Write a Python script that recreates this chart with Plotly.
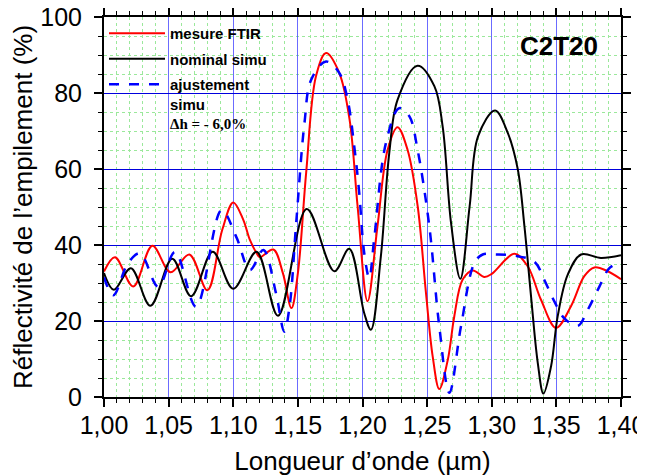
import plotly.graph_objects as go

# ---- data ----
x_ftir = [1.000, 1.0085, 1.0226, 1.0374, 1.0515, 1.066, 1.080, 1.0915, 1.100, 1.1077, 1.1128,
          1.118, 1.1205, 1.131, 1.1384, 1.145, 1.150, 1.1564, 1.164, 1.1718, 1.182, 1.190,
          1.1962, 1.2039, 1.2116, 1.2194, 1.2271, 1.2349, 1.2427, 1.2491, 1.2543, 1.2594,
          1.266, 1.271, 1.2775, 1.2853, 1.2943, 1.300, 1.3175, 1.3278, 1.3381, 1.3497,
          1.3613, 1.3716, 1.3794, 1.3897, 1.400]
y_ftir = [33.0, 36.8, 29.1, 39.8, 32.8, 37.5, 28.1, 44.0, 51.2, 46.7, 41.4,
          37.9, 36.8, 38.8, 32.6, 23.4, 32.6, 59.0, 84.4, 90.5, 85.3, 73.0,
          50.2, 25.2, 45.0, 65.0, 71.0, 65.0, 50.2, 27.4, 10.7, 2.1,
          9.8, 21.2, 30.9, 33.3, 31.6, 32.4, 37.7, 34.4, 25.6, 18.2,
          23.9, 31.8, 34.1, 33.1, 31.0]

x_nominal = [1.000, 1.0077, 1.0208, 1.0359, 1.0528, 1.0674, 1.0841, 1.100, 1.118, 1.1346,
             1.1569, 1.1782, 1.1897, 1.2013, 1.2065, 1.2142, 1.2207, 1.2271, 1.2426, 1.2556,
             1.2620, 1.2685, 1.2757, 1.2829, 1.2894, 1.3026, 1.3124, 1.3201, 1.3253, 1.3304,
             1.3356, 1.340, 1.3459, 1.3510, 1.3588, 1.3691, 1.3845, 1.400]
y_nominal = [32.6, 28.2, 33.9, 24.0, 36.4, 26.5, 38.2, 28.5, 38.2, 21.4,
             49.5, 33.1, 39.0, 22.1, 17.7, 37.0, 64.2, 78.2, 87.2, 81.8,
             71.2, 45.8, 31.1, 50.2, 68.6, 75.4, 69.5, 60.0, 44.9, 26.5,
             9.0, 0.9, 8.1, 21.2, 32.2, 37.5, 36.6, 37.3]

x_fit = [1.000, 1.0072, 1.0187, 1.0279, 1.042, 1.0549, 1.0712, 1.091, 1.1025, 1.113,
         1.1233, 1.133, 1.1395, 1.1436, 1.1487, 1.1551, 1.1603, 1.1718, 1.182, 1.1885,
         1.1936, 1.1974, 1.2013, 1.2052, 1.209, 1.2181, 1.2284, 1.2362, 1.2426, 1.2517,
         1.2594, 1.2672, 1.2762, 1.2866, 1.2930, 1.302, 1.3175, 1.3330, 1.3407, 1.3485,
         1.3562, 1.3665, 1.3742, 1.3832, 1.391, 1.400]
y_fit = [31.5, 26.8, 35.3, 37.8, 29.0, 38.2, 23.8, 49.2, 42.0, 33.4,
         38.7, 27.4, 17.2, 23.9, 45.8, 72.1, 83.5, 88.3, 85.3, 78.2,
         66.0, 54.0, 38.0, 31.3, 41.4, 66.8, 76.0, 73.9, 65.1, 44.9,
         18.6, 1.1, 18.6, 35.3, 37.5, 37.5, 37.2, 35.6, 30.8, 25.1,
         20.7, 18.7, 22.9, 29.0, 33.9, 35.6]

series_names = ["mesure FTIR", "nominal simu",
                "ajustement<br>simu<br><span style=\"font-family:'Liberation Serif', 'Times New Roman', serif\">Δh = - 6,0%</span>"]
x_title = "Longueur d’onde (µm)"
y_title = "Réflectivité de l’empilement (%)"
sample_label = "C2T20"

FONT = "Liberation Sans, Arial, Helvetica, sans-serif"

fig = go.Figure()
fig.add_trace(go.Scatter(x=x_ftir, y=y_ftir, mode="lines", name=series_names[0], legendgroup="a",
                         line=dict(color="#ff0000", width=2, shape="spline", smoothing=1.0)))
fig.add_trace(go.Scatter(x=x_nominal, y=y_nominal, mode="lines", name=series_names[1], legendgroup="b",
                         line=dict(color="#000000", width=2, shape="spline", smoothing=1.0)))
fig.add_trace(go.Scatter(x=x_fit, y=y_fit, mode="lines", name=series_names[2], legendgroup="c",
                         line=dict(color="#0000ff", width=2.5, dash="10px,10px",
                                   shape="spline", smoothing=1.0)))

axis_common = dict(
    showline=True, linecolor="#000000", linewidth=2, mirror="ticks",
    ticks="outside", ticklen=8, tickwidth=1.5, tickcolor="#000000",
    tickfont=dict(family=FONT, size=25, color="#000000"),
    zeroline=False, showgrid=True, gridwidth=1, automargin=False,
    ticklabeloverflow="allow",
)

fig.update_xaxes(
    **axis_common,
    range=[1.0, 1.4], tick0=1.0, dtick=0.05, tickformat=".2f",
    gridcolor="rgba(70,70,255,0.8)", ticklabelstandoff=-3,
    minor=dict(dtick=0.01, ticks="outside", ticklen=4, tickwidth=1.2, tickcolor="#000000",
               showgrid=True, gridcolor="#9be89b", griddash="dot", gridwidth=1),
    title=dict(text=x_title, font=dict(family=FONT, size=26, color="#000000"), standoff=14),
)
fig.update_yaxes(
    **axis_common,
    range=[0, 100], tick0=0, dtick=20,
    gridcolor="#0000dd", ticklabelstandoff=7,
    minor=dict(dtick=5, ticks="outside", ticklen=4, tickwidth=1.2, tickcolor="#000000",
               showgrid=True, gridcolor="#9be89b", griddash="dot", gridwidth=1),
    title=dict(text=y_title, font=dict(family=FONT, size=26, color="#000000"), standoff=7),
)

fig.update_layout(
    width=645, height=475, autosize=False,
    margin=dict(l=96, r=32, t=9, b=86, pad=0),
    paper_bgcolor="#ffffff", plot_bgcolor="#ffffff",
    separators=", ",
    showlegend=True,
    legend=dict(x=0.0, y=1.0, xanchor="left", yanchor="top",
                bgcolor="rgba(0,0,0,0)", borderwidth=0, valign="top",
                itemwidth=56, tracegroupgap=3,
                font=dict(family=FONT, size=15, color="#000000", weight="bold")),
    annotations=[
        dict(text="<b>" + sample_label + "</b>", xref="paper", yref="paper",
             x=0.880, y=0.9237, xanchor="center", yanchor="middle", showarrow=False,
             font=dict(family=FONT, size=26, color="#000000")),
        # mirrored titles of the top and right axes (cut by the page edge)
        dict(text=x_title, xref="paper", yref="paper", x=0.5, y=1.062,
             xanchor="center", yanchor="middle", showarrow=False,
             font=dict(family=FONT, size=26, color="#000000")),
        dict(text=y_title, xref="paper", yref="paper", x=1.058, y=0.5026,
             xanchor="center", yanchor="middle", showarrow=False, textangle=-90,
             font=dict(family=FONT, size=26, color="#000000")),
    ],
)

fig.write_html("out.html")
